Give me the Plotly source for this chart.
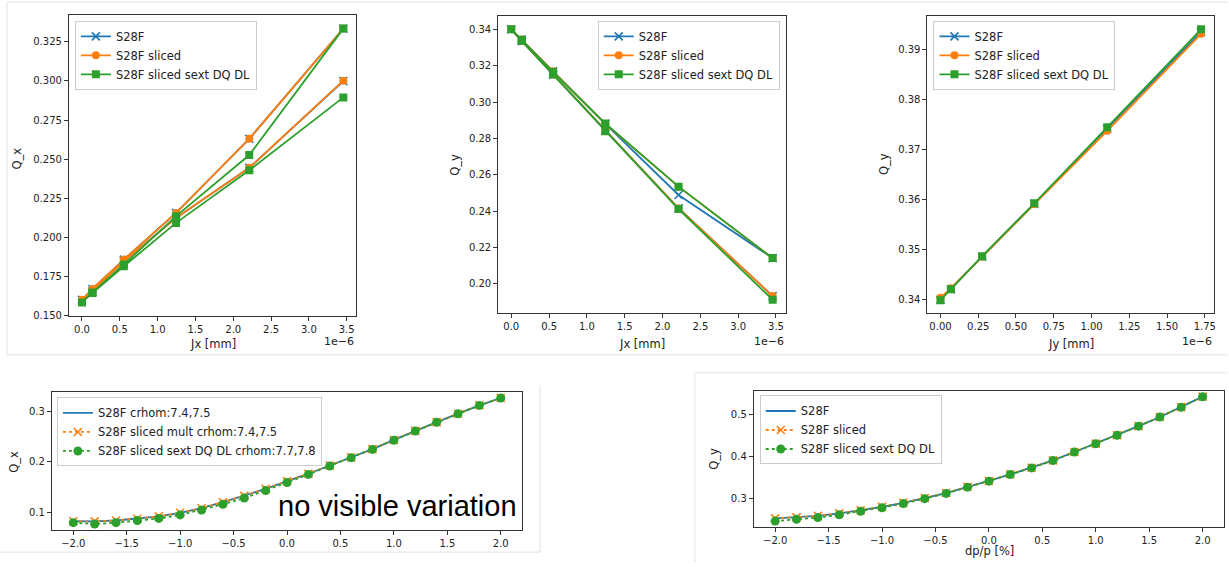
import plotly.graph_objects as go

# ---------------- data ----------------
# Top row: amplitude scans (x in units of 1e-6), path goes from one amplitude sign to the other
jx_path = [3.456, 2.212, 1.244, 0.553, 0.138, 0.0, 0.138, 0.553, 1.244, 2.212, 3.456]
qx_jx_s28f = [0.3335, 0.2630, 0.2156, 0.1857, 0.1669, 0.1600, 0.1654, 0.1846, 0.2124, 0.2444, 0.3000]
qx_jx_sliced = [0.3335, 0.2630, 0.2156, 0.1857, 0.1669, 0.1600, 0.1654, 0.1846, 0.2124, 0.2444, 0.3002]
qx_jx_sext = [0.3335, 0.2526, 0.2135, 0.1825, 0.1647, 0.1583, 0.1643, 0.1814, 0.2092, 0.2429, 0.2895]

qy_jx_s28f = [0.2142, 0.2489, 0.2880, 0.3169, 0.3344, 0.3400, 0.3336, 0.3151, 0.2844, 0.2416, 0.1933]
qy_jx_sliced = [0.2142, 0.2535, 0.2880, 0.3169, 0.3344, 0.3400, 0.3336, 0.3151, 0.2844, 0.2416, 0.1933]
qy_jx_sext = [0.2142, 0.2535, 0.2882, 0.3165, 0.3342, 0.3400, 0.3336, 0.3151, 0.2840, 0.2412, 0.1913]

jy_vals = [0.0, 0.069, 0.276, 0.621, 1.104, 1.725]
qy_jy_s28f = [0.3400, 0.3421, 0.3486, 0.3592, 0.3742, 0.3936]
qy_jy_sliced = [0.3404, 0.3423, 0.3486, 0.3591, 0.3738, 0.3932]
qy_jy_sext = [0.3399, 0.3421, 0.3487, 0.3593, 0.3745, 0.3941]

# Bottom row: chromatic scans
dpp = [-2.0, -1.8, -1.6, -1.4, -1.2, -1.0, -0.8, -0.6, -0.4, -0.2, 0.0,
       0.2, 0.4, 0.6, 0.8, 1.0, 1.2, 1.4, 1.6, 1.8, 2.0]
qx_dp_s28f = [0.0834, 0.0830, 0.0848, 0.0882, 0.0930, 0.1000, 0.1090, 0.1208, 0.1332, 0.1470, 0.1623,
              0.1768, 0.1930, 0.2088, 0.2252, 0.2432, 0.2610, 0.2782, 0.2948, 0.3113, 0.3257]
qx_dp_sliced = [0.0834, 0.0830, 0.0848, 0.0882, 0.0930, 0.1000, 0.1090, 0.1208, 0.1332, 0.1470, 0.1623,
                0.1768, 0.1930, 0.2088, 0.2252, 0.2432, 0.2610, 0.2782, 0.2948, 0.3113, 0.3257]
qx_dp_sext = [0.0806, 0.0779, 0.0806, 0.0848, 0.0889, 0.0958, 0.1055, 0.1166, 0.1291, 0.1436, 0.1595,
              0.1754, 0.1920, 0.2080, 0.2246, 0.2426, 0.2606, 0.2779, 0.2945, 0.3111, 0.3256]

qy_dp_s28f = [0.2533, 0.2555, 0.2590, 0.2650, 0.2725, 0.2805, 0.2900, 0.3015, 0.3135, 0.3283, 0.3422,
              0.3580, 0.3737, 0.3910, 0.4110, 0.4310, 0.4510, 0.4727, 0.4943, 0.5177, 0.5427]
qy_dp_sliced = [0.2533, 0.2555, 0.2590, 0.2650, 0.2725, 0.2805, 0.2900, 0.3015, 0.3135, 0.3283, 0.3422,
                0.3580, 0.3737, 0.3910, 0.4110, 0.4310, 0.4510, 0.4727, 0.4943, 0.5177, 0.5427]
qy_dp_sext = [0.2467, 0.2508, 0.2550, 0.2617, 0.2700, 0.2783, 0.2883, 0.3000, 0.3125, 0.3275, 0.3417,
              0.3575, 0.3733, 0.3908, 0.4108, 0.4308, 0.4508, 0.4725, 0.4942, 0.5175, 0.5425]

names_top = ["S28F", "S28F sliced", "S28F sliced sext DQ DL"]
names_bl = ["S28F crhom:7.4,7.5", "S28F sliced mult crhom:7.4,7.5", "S28F sliced sext DQ DL crhom:7.7,7.8"]
names_br = ["S28F", "S28F sliced", "S28F sliced sext DQ DL"]

# tick labels
jx_ticks = [0.0, 0.5, 1.0, 1.5, 2.0, 2.5, 3.0, 3.5]
jy_ticks = [0.0, 0.25, 0.5, 0.75, 1.0, 1.25, 1.5, 1.75]
qx_jx_ticks = [0.150, 0.175, 0.200, 0.225, 0.250, 0.275, 0.300, 0.325]
qy_jx_ticks = [0.20, 0.22, 0.24, 0.26, 0.28, 0.30, 0.32, 0.34]
qy_jy_ticks = [0.34, 0.35, 0.36, 0.37, 0.38, 0.39]
dp_ticks = [-2.0, -1.5, -1.0, -0.5, 0.0, 0.5, 1.0, 1.5, 2.0]
qx_dp_ticks = [0.1, 0.2, 0.3]
qy_dp_ticks = [0.3, 0.4, 0.5]

# ---------------- style ----------------
BLUE, ORANGE, GREEN = "#1f77b4", "#ff7f0e", "#2ca02c"
FONT = "DejaVu Sans"
TXT = "#222222"
W, H = 1229, 567


def fmt(v, nd):
    s = f"{v:.{nd}f}"
    return s.replace("-", "\u2212")


def px_x(p):
    return p / W


def px_y(p):
    return 1 - p / H


fig = go.Figure()


def top_traces(x, ys, xa, ya, leg):
    fig.add_trace(go.Scatter(x=x, y=ys[0], mode="lines+markers", name=names_top[0],
                             line=dict(color=BLUE, width=1.8),
                             marker=dict(symbol="x-thin", size=8, line=dict(width=1.6, color=BLUE)),
                             xaxis=xa, yaxis=ya, legend=leg))
    fig.add_trace(go.Scatter(x=x, y=ys[1], mode="lines+markers", name=names_top[1],
                             line=dict(color=ORANGE, width=1.8),
                             marker=dict(symbol="circle", size=8, color=ORANGE),
                             xaxis=xa, yaxis=ya, legend=leg))
    fig.add_trace(go.Scatter(x=x, y=ys[2], mode="lines+markers", name=names_top[2],
                             line=dict(color=GREEN, width=1.8),
                             marker=dict(symbol="square", size=8, color=GREEN),
                             xaxis=xa, yaxis=ya, legend=leg))


def bottom_traces(x, ys, names, xa, ya, leg):
    fig.add_trace(go.Scatter(x=x, y=ys[0], mode="lines", name=names[0],
                             line=dict(color=BLUE, width=1.8),
                             xaxis=xa, yaxis=ya, legend=leg))
    fig.add_trace(go.Scatter(x=x, y=ys[1], mode="lines+markers", name=names[1],
                             line=dict(color=ORANGE, width=1.8, dash="dot"),
                             marker=dict(symbol="x-thin", size=8, line=dict(width=1.6, color=ORANGE)),
                             xaxis=xa, yaxis=ya, legend=leg))
    fig.add_trace(go.Scatter(x=x, y=ys[2], mode="lines+markers", name=names[2],
                             line=dict(color=GREEN, width=1.8, dash="dot"),
                             marker=dict(symbol="circle", size=9, color=GREEN),
                             xaxis=xa, yaxis=ya, legend=leg))


top_traces(jx_path, [qx_jx_s28f, qx_jx_sliced, qx_jx_sext], "x", "y", "legend")
top_traces(jx_path, [qy_jx_s28f, qy_jx_sliced, qy_jx_sext], "x2", "y2", "legend2")
top_traces(jy_vals, [qy_jy_s28f, qy_jy_sliced, qy_jy_sext], "x3", "y3", "legend3")
bottom_traces(dpp, [qx_dp_s28f, qx_dp_sliced, qx_dp_sext], names_bl, "x4", "y4", "legend4")
bottom_traces(dpp, [qy_dp_s28f, qy_dp_sliced, qy_dp_sext], names_br, "x5", "y5", "legend5")


def axis(dom_px, rng, tv, nd, anchor, horizontal):
    if horizontal:
        dom = [px_x(dom_px[0]), px_x(dom_px[1])]
    else:
        dom = [px_y(dom_px[1]), px_y(dom_px[0])]
    return dict(domain=dom, range=rng, tickmode="array", tickvals=tv,
                ticktext=[fmt(v, nd) for v in tv], anchor=anchor,
                showline=True, mirror=True, linecolor="#333333", linewidth=1,
                ticks="outside", ticklen=4, tickwidth=1, tickcolor="#333333",
                showgrid=False, zeroline=False,
                tickfont=dict(family=FONT, size=10, color=TXT))


# pixel boxes of the five axes
TL = dict(x=(69, 357), y=(15, 319))
TM = dict(x=(499, 787), y=(16, 316))
TR = dict(x=(929, 1216), y=(16, 316))
BL = dict(x=(52, 523), y=(395, 535))
BR = dict(x=(755, 1226), y=(394, 532))

fig.update_layout(
    xaxis=axis(TL["x"], [-0.173, 3.629], jx_ticks, 1, "y", True),
    yaxis=axis(TL["y"], [0.1495, 0.3423], qx_jx_ticks, 3, "x", False),
    xaxis2=axis(TM["x"], [-0.173, 3.629], jx_ticks, 1, "y2", True),
    yaxis2=axis(TM["y"], [0.1839, 0.3474], qy_jx_ticks, 2, "x2", False),
    xaxis3=axis(TR["x"], [-0.086, 1.811], jy_ticks, 2, "y3", True),
    yaxis3=axis(TR["y"], [0.3373, 0.3968], qy_jy_ticks, 2, "x3", False),
    xaxis4=axis(BL["x"], [-2.2, 2.2], dp_ticks, 1, "y4", True),
    yaxis4=axis(BL["y"], [0.0656, 0.3384], qx_dp_ticks, 1, "x4", False),
    xaxis5=axis(BR["x"], [-2.2, 2.2], dp_ticks, 1, "y5", True),
    yaxis5=axis(BR["y"], [0.2319, 0.5573], qy_dp_ticks, 1, "x5", False),
)


def legend_at(xp, yp, xanchor="left"):
    return dict(x=px_x(xp), y=px_y(yp), xanchor=xanchor, yanchor="top",
                xref="paper", yref="paper",
                bgcolor="rgba(255,255,255,0.85)", bordercolor="#cccccc", borderwidth=1,
                font=dict(family=FONT, size=11.5, color=TXT), itemwidth=30,
                tracegroupgap=0)


fig.update_layout(
    legend=legend_at(75, 21),
    legend2=legend_at(781, 21, "right"),
    legend3=legend_at(935, 21),
    legend4=legend_at(57, 401),
    legend5=legend_at(761, 399),
)

ann = []


def text(xp, yp, s, size=11.5, angle=0, xanchor="center", font=FONT, color=TXT):
    ann.append(dict(x=px_x(xp), y=px_y(yp), xref="paper", yref="paper", text=s,
                    showarrow=False, textangle=angle, xanchor=xanchor, yanchor="middle",
                    font=dict(family=font, size=size, color=color)))


# axis titles
text(213, 347, "Jx [mm]")
text(17, 160, "Q_x", angle=-90)
text(643, 347, "Jx [mm]")
text(455, 166, "Q_y", angle=-90)
text(1073, 347, "Jy [mm]")
text(885, 166, "Q_y", angle=-90)
text(14, 466, "Q_x", angle=-90)
text(715, 463, "Q_y", angle=-90)
text(991, 556, "dp/p [%]")
# offset texts
text(357, 345, "1e\u22126", size=11, xanchor="right")
text(787, 345, "1e\u22126", size=11, xanchor="right")
text(1216, 345, "1e\u22126", size=11, xanchor="right")
# big note
text(398, 510, "no visible variation", size=29, font="Liberation Sans, Arial", color="#000000")

shapes = []


def hline(x0, x1, y):
    shapes.append(dict(type="line", xref="paper", yref="paper", x0=px_x(x0), x1=px_x(x1),
                       y0=px_y(y), y1=px_y(y), line=dict(color="#e2e2e2", width=1)))


def vline(x, y0, y1):
    shapes.append(dict(type="line", xref="paper", yref="paper", x0=px_x(x), x1=px_x(x),
                       y0=px_y(y0), y1=px_y(y1), line=dict(color="#e2e2e2", width=1)))


hline(7, 1229, 2)
vline(7, 2, 358)
hline(7, 1229, 358)
vline(541, 390, 557)
hline(0, 541, 557)
vline(696, 376, 567)
hline(696, 1229, 376)

fig.update_layout(annotations=ann, shapes=shapes, width=W, height=H,
                  margin=dict(l=0, r=0, t=0, b=0),
                  paper_bgcolor="white", plot_bgcolor="white")

fig.write_html("out.html", config={"displayModeBar": False},
               post_script="document.body.style.margin='0';document.body.style.overflow='hidden';")
